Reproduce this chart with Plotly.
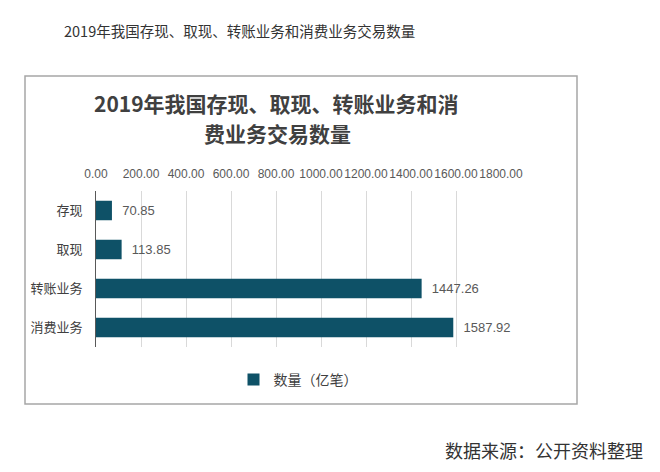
import plotly.graph_objects as go

categories = ["存现", "取现", "转账业务", "消费业务"]
values = [70.85, 113.85, 1447.26, 1587.92]
tick_vals = [0, 200, 400, 600, 800, 1000, 1200, 1400, 1600, 1800]
tick_text = ["0.00", "200.00", "400.00", "600.00", "800.00", "1000.00", "1200.00", "1400.00", "1600.00", "1800.00"]

W, H = 660, 472
L, R, T, B = 96, 159, 191, 125
pw, ph = W - L - R, H - T - B

def px(x):
    return (x - L) / pw

def py(y):
    return 1 - (y - T) / ph

FONT = "Liberation Sans, Noto Sans CJK SC, sans-serif"
CJK = "Noto Sans CJK SC, sans-serif"
bar_color = "#0E5167"

fig = go.Figure()
fig.add_trace(go.Bar(
    y=categories, x=values, orientation="h",
    marker=dict(color=bar_color, line=dict(width=0)),
    text=[f"  {v:.2f}" for v in values], textposition="outside",
    textfont=dict(family=FONT, size=13, color="#595959"),
    cliponaxis=False,
    name="数量（亿笔）", showlegend=True,
))

fig.update_layout(
    width=W, height=H,
    margin=dict(l=L, r=R, t=T, b=B, autoexpand=False),
    paper_bgcolor="white", plot_bgcolor="white",
    bargap=0.5,
    font=dict(family=FONT, color="#595959"),
    xaxis=dict(
        side="top", range=[0, 1800], tickvals=tick_vals, ticktext=tick_text,
        tickangle=0,
        tickfont=dict(family=FONT, size=12, color="#595959"),
        showgrid=True, gridcolor="#D9D9D9", gridwidth=1,
        zeroline=False, showline=False, ticks="", ticklabelstandoff=10,
        automargin=False, fixedrange=True,
    ),
    yaxis=dict(
        autorange="reversed", tickfont=dict(family=CJK, size=13, color="#404040"),
        showline=True, linecolor="#595959", linewidth=1, ticks="",
        showgrid=False, ticklabelstandoff=10, automargin=False,
    ),
    legend=dict(
        orientation="h", x=px(298), xanchor="center", y=py(380), yanchor="middle",
        font=dict(family=CJK, size=14, color="#404040"),
        bgcolor="rgba(0,0,0,0)", itemwidth=30,
    ),
    showlegend=True,
)

fig.add_shape(type="rect", xref="paper", yref="paper",
              x0=px(25), x1=px(577), y0=py(76), y1=py(404),
              line=dict(color="#A6A6A6", width=1.5), fillcolor="rgba(0,0,0,0)", layer="below")

fig.add_annotation(text="2019年我国存现、取现、转账业务和消费业务交易数量",
                   xref="paper", yref="paper", x=px(62), y=py(30), xanchor="left", yanchor="middle",
                   showarrow=False, font=dict(family=CJK, size=14.5, color="#333333"))
fig.add_annotation(text="<b>2019年我国存现、取现、转账业务和消</b>",
                   xref="paper", yref="paper", x=px(276), y=py(103), xanchor="center", yanchor="middle",
                   showarrow=False, align="center", borderpad=0,
                   font=dict(family=CJK, size=21, color="#404040"))
fig.add_annotation(text="<b>费业务交易数量</b>",
                   xref="paper", yref="paper", x=px(277), y=py(133), xanchor="center", yanchor="middle",
                   showarrow=False, align="center", borderpad=0,
                   font=dict(family=CJK, size=21, color="#404040"))
fig.add_annotation(text="数据来源：公开资料整理",
                   xref="paper", yref="paper", x=px(645), y=py(450), xanchor="right", yanchor="middle",
                   showarrow=False, font=dict(family=CJK, size=18, color="#333333"))

fig.write_html("out.html", post_script="document.body.style.margin='0';",
               config={"displayModeBar": False})
